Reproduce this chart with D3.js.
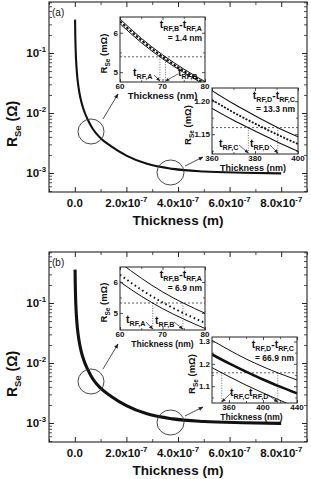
<!DOCTYPE html>
<html>
<head>
<meta charset="utf-8">
<script src="https://cdn.jsdelivr.net/npm/d3@7"></script>
<style>
body { margin: 0; background: #fff; }
svg { display: block; }
text { font-family: "Liberation Sans", Arial, sans-serif; fill: #111; }
</style>
</head>
<body>
<script>
// main curve, thickness in m, R_Se in ohm
var thickness = [1e-9, 2e-9, 3e-9, 5e-9, 8e-9, 12e-9, 18e-9, 25e-9, 35e-9, 50e-9, 70e-9, 100e-9, 140e-9, 200e-9, 280e-9, 380e-9, 500e-9, 650e-9, 800e-9];
var resistance = [0.36, 0.185, 0.125, 0.076, 0.048, 0.032, 0.0215, 0.0155, 0.0111, 0.0078, 0.0054, 0.0038, 0.0028, 0.00195, 0.00142, 0.00117, 0.00106, 0.00101, 0.000985];

var xTickVals = [0, 2e-7, 4e-7, 6e-7, 8e-7];
var xTickBase = ["0.0", "2.0x10", "4.0x10", "6.0x10", "8.0x10"];
var xTickExp = ["", "-7", "-7", "-7", "-7"];
var yTickVals = [1e-3, 1e-2, 1e-1];
var yTickExp = ["-3", "-2", "-1"];

// insets, thickness in nm, R_Se in mOhm
var nearT = [60, 65, 70, 75, 80];
var a1Lower = [6.23, 5.75, 5.34, 4.99, 4.68];
var a1Mid = [6.29, 5.81, 5.39, 5.03, 4.72];
var a1Upper = [6.35, 5.86, 5.44, 5.08, 4.76];
var a1Level = 5.39;
var a1Cross = [69.4, 70.7];

var a2T = [360, 370, 380, 390, 400];
var a2Lower = [1.189, 1.171, 1.155, 1.139, 1.124];
var a2Mid = [1.202, 1.183, 1.166, 1.150, 1.135];
var a2Upper = [1.216, 1.196, 1.178, 1.161, 1.146];
var a2Level = 1.16;
var a2Cross = [376.9, 390.6];

var b1Lower = [6.00, 5.54, 5.14, 4.80, 4.50];
var b1Mid = [6.23, 5.75, 5.34, 4.99, 4.68];
var b1Upper = [6.62, 6.12, 5.68, 5.31, 4.99];
var b1Level = 5.32;
var b1Cross = [67.7, 74.8];

var b2T = [340, 360, 380, 400, 420, 440];
var b2Lower = [1.183, 1.143, 1.105, 1.070, 1.037, 1.005];
var b2Mid = [1.242, 1.202, 1.165, 1.130, 1.098, 1.068];
var b2Upper = [1.305, 1.262, 1.222, 1.187, 1.156, 1.128];
var b2Level = 1.16;
var b2Cross = [351.5, 417.4];

var W = 311, H = 479;

var svg = d3.select("body").append("svg")
    .attr("width", W)
    .attr("height", H)
    .attr("viewBox", "0 0 " + W + " " + H);

svg.append("defs").append("marker")
    .attr("id", "arr")
    .attr("viewBox", "0 0 10 10")
    .attr("refX", 9).attr("refY", 5)
    .attr("markerWidth", 6).attr("markerHeight", 6)
    .attr("orient", "auto")
    .append("path").attr("d", "M0,1L10,5L0,9z").attr("fill", "#222");

// text with subscript/superscript pieces: [text, shift] shift: 0 normal, 1 sub, -1 sup
function richText(sel, parts, size) {
    var cur = 0;
    parts.forEach(function(p) {
        var want = p[1];
        var dy = 0;
        if (want !== cur) {
            var off = function(s) { return s === 1 ? size * 0.3 : (s === -1 ? -size * 0.45 : 0); };
            dy = off(want) - off(cur);
            cur = want;
        }
        sel.append("tspan")
            .attr("dy", dy)
            .attr("font-size", want === 0 ? size : size * 0.68)
            .text(p[0]);
    });
}

function styleAxis(g, w) {
    g.select(".domain").remove();
    g.selectAll(".tick line").attr("stroke", "#222").attr("stroke-width", w);
    g.selectAll(".tick text").remove();
}

function drawMain(top, tag, curveW) {
    var left = 49, right = 307, bottom = top + 190;
    var x = d3.scaleLinear().domain([-1e-7, 9e-7]).range([left, right]);
    var y = d3.scaleLog().domain([4.82e-4, 0.708]).range([bottom, top]);

    var g = svg.append("g");
    var xMinor = [-1e-7, 1e-7, 3e-7, 5e-7, 7e-7, 9e-7];
    var yMinor = y.ticks().filter(function(v) {
        return Math.abs(Math.log10(v) - Math.round(Math.log10(v))) > 1e-6;
    });

    [[d3.axisBottom, bottom], [d3.axisTop, top]].forEach(function(a) {
        g.append("g").attr("transform", "translate(0," + a[1] + ")")
            .call(a[0](x).tickValues(xTickVals).tickSizeInner(-5).tickSizeOuter(0)).call(styleAxis, 1);
        g.append("g").attr("transform", "translate(0," + a[1] + ")")
            .call(a[0](x).tickValues(xMinor).tickSizeInner(-3).tickSizeOuter(0)).call(styleAxis, 0.8);
    });
    [[d3.axisLeft, left], [d3.axisRight, right]].forEach(function(a) {
        g.append("g").attr("transform", "translate(" + a[1] + ",0)")
            .call(a[0](y).tickValues(yTickVals).tickSizeInner(-5).tickSizeOuter(0)).call(styleAxis, 1);
        g.append("g").attr("transform", "translate(" + a[1] + ",0)")
            .call(a[0](y).tickValues(yMinor).tickSizeInner(-3).tickSizeOuter(0)).call(styleAxis, 0.8);
    });

    g.append("rect")
        .attr("x", left).attr("y", top)
        .attr("width", right - left).attr("height", bottom - top)
        .attr("fill", "none").attr("stroke", "#222").attr("stroke-width", 1.1);

    xTickVals.forEach(function(v, i) {
        var t = g.append("text")
            .attr("x", x(v)).attr("y", bottom + 15)
            .attr("text-anchor", "middle")
            .attr("font-weight", "bold");
        var parts = [[xTickBase[i], 0]];
        if (xTickExp[i]) parts.push([xTickExp[i], -1]);
        richText(t, parts, 11.5);
    });
    yTickVals.forEach(function(v, i) {
        var t = g.append("text")
            .attr("x", left - 3).attr("y", y(v) + 4)
            .attr("text-anchor", "end")
            .attr("font-weight", "bold");
        richText(t, [["10", 0], [yTickExp[i], -1]], 11.5);
    });

    g.append("text")
        .attr("x", 178).attr("y", bottom + 33)
        .attr("text-anchor", "middle")
        .attr("font-weight", "bold")
        .attr("font-size", 13.5)
        .text("Thickness (m)");

    var yt = g.append("text")
        .attr("transform", "translate(17," + (top + 122) + ") rotate(-90)")
        .attr("text-anchor", "middle")
        .attr("font-weight", "bold");
    richText(yt, [["R", 0], ["Se", 1], [" (\u03A9)", 0]], 14);

    g.append("text")
        .attr("x", 52).attr("y", top + 14)
        .attr("font-size", 10)
        .text(tag);

    var line = d3.line()
        .x(function(d) { return x(d[0]); })
        .y(function(d) { return y(d[1]); })
        .curve(d3.curveMonotoneX);
    g.append("path")
        .datum(d3.zip(thickness, resistance))
        .attr("fill", "none")
        .attr("stroke", "#111")
        .attr("stroke-width", curveW)
        .attr("d", line);

    // zoom circles and arrows
    g.append("ellipse").attr("cx", 91).attr("cy", top + 129.5).attr("rx", 13).attr("ry", 12.5)
        .attr("fill", "none").attr("stroke", "#333").attr("stroke-width", 0.9);
    g.append("ellipse").attr("cx", 170.5).attr("cy", top + 170.5).attr("rx", 13.5).attr("ry", 12.5)
        .attr("fill", "none").attr("stroke", "#333").attr("stroke-width", 0.9);
    g.append("line").attr("x1", 103).attr("y1", top + 117).attr("x2", 118).attr("y2", top + 92)
        .attr("stroke", "#222").attr("stroke-width", 0.8).attr("marker-end", "url(#arr)");
    g.append("line").attr("x1", 185).attr("y1", top + 164).attr("x2", 203).attr("y2", top + 155)
        .attr("stroke", "#222").attr("stroke-width", 0.8).attr("marker-end", "url(#arr)");
}

var clipN = 0;
function drawInset(c) {
    var x = d3.scaleLinear().domain(c.xDom).range([c.x0, c.x1]);
    var y = d3.scaleLinear().domain(c.yDom).range([c.y1, c.y0]);
    var g = svg.append("g");
    var id = "clip" + (clipN++);
    g.append("clipPath").attr("id", id).append("rect")
        .attr("x", c.x0).attr("y", c.y0).attr("width", c.x1 - c.x0).attr("height", c.y1 - c.y0);

    g.append("rect")
        .attr("x", c.x0).attr("y", c.y0)
        .attr("width", c.x1 - c.x0).attr("height", c.y1 - c.y0)
        .attr("fill", "#fff");

    var plot = g.append("g").attr("clip-path", "url(#" + id + ")");

    // reference level and crossing markers
    plot.append("line")
        .attr("x1", c.x0).attr("x2", c.x1)
        .attr("y1", y(c.level)).attr("y2", y(c.level))
        .attr("stroke", "#333").attr("stroke-width", 0.8).attr("stroke-dasharray", "2,2");
    c.cross.forEach(function(t) {
        plot.append("line")
            .attr("x1", x(t)).attr("x2", x(t))
            .attr("y1", y(c.level)).attr("y2", c.y1)
            .attr("stroke", "#444").attr("stroke-width", 0.8).attr("stroke-dasharray", "1,1.5");
    });

    var line = d3.line()
        .x(function(d) { return x(d[0]); })
        .y(function(d) { return y(d[1]); })
        .curve(d3.curveMonotoneX);
    c.series.forEach(function(s) {
        plot.append("path")
            .datum(d3.zip(c.t, s.v))
            .attr("fill", "none")
            .attr("stroke", "#111")
            .attr("stroke-width", s.w)
            .attr("stroke-dasharray", s.dash || null)
            .attr("d", line);
    });

    // ticks on all four sides, pointing in
    [[d3.axisBottom, c.y1], [d3.axisTop, c.y0]].forEach(function(a) {
        g.append("g").attr("transform", "translate(0," + a[1] + ")")
            .call(a[0](x).tickValues(c.xTicks).tickSizeInner(-3).tickSizeOuter(0)).call(styleAxis, 0.8);
        g.append("g").attr("transform", "translate(0," + a[1] + ")")
            .call(a[0](x).tickValues(c.xMinor).tickSizeInner(-2).tickSizeOuter(0)).call(styleAxis, 0.7);
    });
    [[d3.axisLeft, c.x0], [d3.axisRight, c.x1]].forEach(function(a) {
        g.append("g").attr("transform", "translate(" + a[1] + ",0)")
            .call(a[0](y).tickValues(c.yTicks).tickSizeInner(-3).tickSizeOuter(0)).call(styleAxis, 0.8);
        g.append("g").attr("transform", "translate(" + a[1] + ",0)")
            .call(a[0](y).tickValues(c.yMinor).tickSizeInner(-2).tickSizeOuter(0)).call(styleAxis, 0.7);
    });

    g.append("rect")
        .attr("x", c.x0).attr("y", c.y0)
        .attr("width", c.x1 - c.x0).attr("height", c.y1 - c.y0)
        .attr("fill", "none").attr("stroke", "#222").attr("stroke-width", 1);

    c.xTicks.forEach(function(v) {
        g.append("text").attr("x", x(v)).attr("y", c.y1 + 7)
            .attr("text-anchor", "middle").attr("font-weight", "bold")
            .attr("font-size", 8).text(v);
    });
    c.yTicks.forEach(function(v) {
        g.append("text").attr("x", c.x0 - 2).attr("y", y(v) + 3)
            .attr("text-anchor", "end").attr("font-weight", "bold")
            .attr("font-size", 8).text(d3.format(c.yFmt)(v));
    });

    g.append("text")
        .attr("x", (c.x0 + c.x1) / 2 + c.titleDx).attr("y", c.y1 + 17)
        .attr("text-anchor", "middle").attr("font-weight", "bold")
        .attr("font-size", c.titleSize).text("Thickness (nm)");

    var yt = g.append("text")
        .attr("transform", "translate(" + c.yTitleX + "," + ((c.y0 + c.y1) / 2 + 4) + ") rotate(-90)")
        .attr("text-anchor", "middle").attr("font-weight", "bold");
    richText(yt, [["R", 0], ["Se", 1], [" (m\u03A9)", 0]], 9.5);

    // difference annotation
    var d1 = g.append("text").attr("x", c.x1 - 3).attr("y", c.y0 + 11)
        .attr("text-anchor", "end").attr("font-weight", "bold");
    richText(d1, [["t", 0], ["RF," + c.names[1], 1], ["-t", 0], ["RF," + c.names[0], 1]], 10.5);
    g.append("text").attr("x", c.x1 - 3).attr("y", c.y0 + 24)
        .attr("text-anchor", "end").attr("font-weight", "bold")
        .attr("font-size", 8.5).text("= " + c.diff + " nm");

    // crossing labels with arrows
    c.tags.forEach(function(tg, i) {
        var t = g.append("text").attr("x", tg.x).attr("y", tg.y).attr("font-weight", "bold");
        richText(t, [["t", 0], ["RF," + c.names[i], 1]], 10.5);
        g.append("line")
            .attr("x1", tg.ax).attr("y1", tg.ay)
            .attr("x2", x(c.cross[i])).attr("y2", c.y1 - 1)
            .attr("stroke", "#222").attr("stroke-width", 0.7)
            .attr("marker-end", "url(#arr)");
    });
}

drawMain(2, "(a)", 2.1);
drawMain(252, "(b)", 3.1);

drawInset({
    x0: 120, x1: 205, y0: 17, y1: 82,
    xDom: [60, 80], yDom: [4.75, 6.4],
    xTicks: [60, 70, 80], xMinor: [65, 75],
    yTicks: [5, 6], yMinor: [5.5], yFmt: "d",
    t: nearT,
    series: [{ v: a1Lower, w: 1 }, { v: a1Upper, w: 1 }, { v: a1Mid, w: 2, dash: "2.5,1.8" }],
    level: a1Level, cross: a1Cross,
    names: ["A", "B"], diff: "1.4",
    titleSize: 9.5, titleDx: 0, yTitleX: 107,
    tags: [{ x: 133, y: 76, ax: 154, ay: 75 }, { x: 178, y: 76, ax: 178, ay: 74 }]
});

drawInset({
    x0: 212, x1: 298, y0: 88, y1: 154,
    xDom: [360, 400], yDom: [1.12, 1.22],
    xTicks: [360, 380, 400], xMinor: [370, 390],
    yTicks: [1.15, 1.20], yMinor: [1.125, 1.175], yFmt: ".2f",
    t: a2T,
    series: [{ v: a2Lower, w: 1.1 }, { v: a2Upper, w: 1.1 }, { v: a2Mid, w: 1.8, dash: "2,1.5" }],
    level: a2Level, cross: a2Cross,
    names: ["C", "D"], diff: "13.3",
    titleSize: 9, titleDx: -2, yTitleX: 191,
    tags: [{ x: 219, y: 147, ax: 239, ay: 145 }, { x: 250, y: 147, ax: 270, ay: 145 }]
});

drawInset({
    x0: 120, x1: 205, y0: 267, y1: 330,
    xDom: [60, 80], yDom: [4.45, 6.48],
    xTicks: [60, 70, 80], xMinor: [65, 75],
    yTicks: [5, 6], yMinor: [5.5], yFmt: "d",
    t: nearT,
    series: [{ v: b1Lower, w: 1 }, { v: b1Upper, w: 1 }, { v: b1Mid, w: 2, dash: "1.5,3" }],
    level: b1Level, cross: b1Cross,
    names: ["A", "B"], diff: "6.9",
    titleSize: 8.5, titleDx: 0, yTitleX: 107,
    tags: [{ x: 126, y: 323, ax: 146, ay: 322 }, { x: 155, y: 324, ax: 174, ay: 322 }]
});

drawInset({
    x0: 212, x1: 297, y0: 337, y1: 403,
    xDom: [340, 440], yDom: [1.025, 1.32],
    xTicks: [360, 400, 440], xMinor: [380, 420],
    yTicks: [1.1, 1.2, 1.3], yMinor: [1.05, 1.15, 1.25], yFmt: ".1f",
    t: b2T,
    series: [{ v: b2Lower, w: 1 }, { v: b2Upper, w: 1 }, { v: b2Mid, w: 2.6 }],
    level: b2Level, cross: b2Cross,
    names: ["C", "D"], diff: "66.9",
    titleSize: 8.5, titleDx: -3, yTitleX: 195,
    tags: [{ x: 230, y: 396, ax: 231, ay: 393 }, { x: 249, y: 396, ax: 268, ay: 395 }]
});
</script>
</body>
</html>
